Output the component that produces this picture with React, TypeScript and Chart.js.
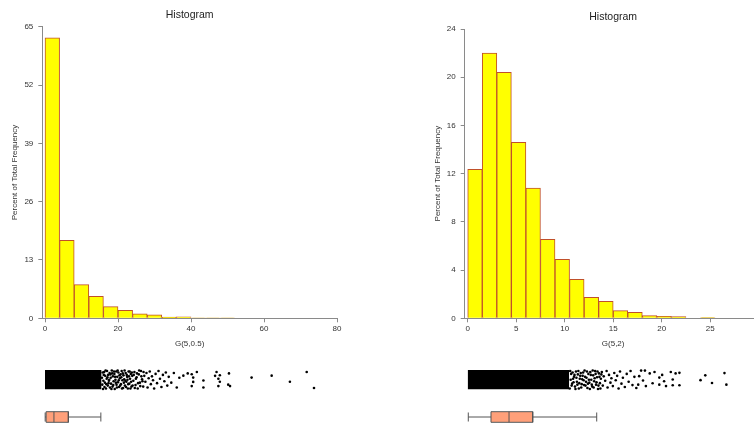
import React, { useEffect, useRef } from "react";
import { Chart, registerables } from "chart.js";
Chart.register(...registerables);

const FONT = "'Liberation Sans', Arial, Helvetica, sans-serif";

// ---------- Left panel: G(5,0.5) ----------
const leftBinEdges = [0, 4, 8, 12, 16, 20, 24, 28, 32, 36, 40, 44, 48];
const leftPercents = [62.5, 17.4, 7.5, 4.9, 2.6, 1.8, 1.0, 0.8, 0.25, 0.35, 0.1, 0.08, 0.06];
const leftXTicks = [0, 20, 40, 60, 80];
const leftYTicks = [0, 13, 26, 39, 52, 65];
const leftDenseRange = [0, 15.5];
const leftStripPoints = [
  [15.6, 0.2], [15.7, -0.5], [15.8, 0.75], [15.9, -0.95], [16.0, -0.1], [16.1, 0.5], [16.3, -0.75], [16.6, 0.95],
  [16.8, -0.45], [17.1, 0.25], [17.4, -0.35], [17.6, 0.0], [17.9, 0.55], [18.2, -0.95], [18.4, 0.65], [18.7, -0.55],
  [18.9, 0.85], [19.2, 0.3], [19.4, -0.3], [19.7, -0.8], [19.9, 0.95], [20.2, -0.05], [20.4, 0.45], [20.6, -0.6],
  [20.9, 0.25], [21.1, -0.9], [21.3, 0.65], [21.6, -0.3], [21.8, 0.95], [22.0, -0.1], [22.2, -0.75], [22.4, 0.5],
  [22.6, 0.0], [22.8, -0.45], [23.0, 0.35], [23.2, 0.85], [23.4, -0.9], [23.6, -0.2], [23.8, 0.75], [24.0, -0.6],
  [24.3, 0.5], [24.6, -0.85], [24.9, 0.1], [25.2, 0.65], [25.5, -0.35], [25.8, 0.95], [26.1, -0.65], [26.4, 0.35],
  [26.7, -0.15], [27.0, 0.8],
  [16.2, 0.8], [16.4, -0.3], [16.5, 0.4], [16.7, -0.9], [16.9, 0.1], [17.0, 0.9], [17.2, -0.6], [17.3, 0.5],
  [17.5, -0.1], [17.7, 0.7], [17.8, -0.8], [18.0, 0.2], [18.1, -0.4], [18.3, 0.95], [18.5, -0.7], [18.6, 0.35],
  [18.8, -0.15], [19.0, 0.6], [19.1, -0.95], [19.3, 0.0], [19.5, 0.85], [19.6, -0.5], [19.8, 0.3], [20.0, -0.25],
  [20.1, 0.75], [20.3, -0.75], [20.5, 0.15], [20.7, 0.55], [20.8, -0.45], [21.0, 0.9], [21.2, -0.05], [21.4, -0.85],
  [21.5, 0.45], [21.7, 0.05], [21.9, -0.6], [22.1, 0.7], [22.3, -0.2], [22.5, 0.3], [22.7, -0.9], [22.9, 0.85],
  [23.1, -0.4], [23.3, 0.1], [23.5, 0.6], [23.7, -0.7], [23.9, 0.4],
  [24.2, -0.1], [24.5, 0.8], [24.8, -0.55], [25.1, 0.25], [25.4, -0.9], [25.7, 0.55], [26.0, -0.3], [26.3, 0.9],
  [26.6, 0.05], [26.9, -0.7], [27.2, 0.4], [27.5, -0.2], [27.8, 0.7], [28.1, -0.8], [28.4, 0.15], [28.7, 0.85],
  [29.0, -0.45], [29.3, 0.35], [29.6, -0.05], [29.9, -0.9], [30.3, 0.6], [30.7, -0.35], [31.1, 0.9], [31.5, 0.1],
  [31.9, -0.75], [32.3, 0.5], [32.7, -0.15], [33.1, 0.75], [33.5, -0.6], [33.9, 0.3], [34.6, -0.3], [35.3, 0.7],
  [36.1, -0.8], [36.8, 0.2],
  [37.9, 0.42], [39.1, 0.65], [40.2, 0.56], [40.6, 0.22], [41.6, 0.8], [40.6, -0.22], [40.2, -0.65], [43.4, -0.07],
  [43.4, -0.8], [47.0, 0.8], [46.6, 0.4], [47.9, 0.46], [47.5, 0.1], [47.9, -0.2], [47.5, -0.65], [50.2, -0.5],
  [50.7, -0.65], [50.4, 0.65],
  [56.6, 0.22], [62.1, 0.42], [67.1, -0.2], [71.7, 0.8], [73.7, -0.85],
];
const leftBox = { min: 0.05, q1: 0.3, median: 2.45, q3: 6.4, max: 15.3 };

// ---------- Right panel: G(5,2) ----------
const rightBinEdges = [0, 1.5, 3, 4.5, 6, 7.5, 9, 10.5, 12, 13.5, 15, 16.5, 18, 19.5, 21, 22.5, 24];
const rightPercents = [12.35, 22.0, 20.4, 14.6, 10.8, 6.55, 4.9, 3.23, 1.74, 1.4, 0.64, 0.5, 0.22, 0.17, 0.14, 0, 0.06];
const rightXTicks = [0, 5, 10, 15, 20, 25];
const rightYTicks = [0, 4, 8, 12, 16, 20, 24];
const rightDenseRange = [0, 10.6];
const rightStripPoints = [
  [10.65, -0.9], [10.7, 0.9], [10.75, 0.0], [10.85, -0.6], [10.95, 0.75], [11.05, -0.25], [11.15, 0.5], [11.25, -0.95],
  [11.35, 0.2], [11.45, -0.5], [11.55, 0.9], [11.65, -0.35], [11.75, 0.4], [11.85, -0.8], [11.95, 0.05], [12.05, 0.75],
  [12.15, -0.55], [12.25, 0.3], [12.35, -0.2], [12.45, 0.85], [12.55, -0.4], [12.65, 0.0], [12.75, -0.95], [12.85, 0.5],
  [12.95, -0.5], [13.05, 0.95], [13.15, -0.8], [13.25, 0.15], [13.35, 0.6], [13.45, -0.25], [13.55, 0.85], [13.65, -0.6],
  [13.75, 0.3], [13.85, -0.9], [13.95, 0.55],
  [10.8, 0.6], [10.9, -0.4], [11.0, 0.1], [11.1, 0.3], [11.2, -0.7], [11.3, 0.85], [11.4, -0.2], [11.5, 0.55],
  [11.6, -0.9], [11.7, 0.1], [11.8, 0.7], [11.9, -0.45], [12.0, 0.4], [12.1, -0.05], [12.2, 0.95], [12.3, -0.6],
  [12.4, 0.2], [12.5, -0.85], [12.6, 0.6], [12.7, -0.3], [12.8, 0.8], [12.9, 0.0], [13.0, -0.7], [13.1, 0.45],
  [13.2, -0.15], [13.3, 0.9], [13.4, -0.5], [13.5, 0.25], [13.6, -0.95], [13.7, 0.65], [13.8, -0.35], [13.9, 0.1],
  [14.0, 0.8], [14.1, -0.6], [14.2, 0.35], [14.35, -0.1], [14.5, 0.9], [14.6, -0.8], [14.75, 0.5], [14.9, -0.3],
  [15.0, 0.15], [15.15, -0.65], [15.3, 0.7], [15.45, -0.05], [15.6, 0.4], [15.75, -0.9], [15.9, 0.85], [16.05, -0.4],
  [16.2, 0.2], [16.4, -0.75], [16.6, 0.6], [16.8, -0.2], [17.0, 0.9], [17.2, -0.55], [17.4, 0.3], [17.6, -0.85],
  [17.8, -0.5], [17.9, 0.37], [18.1, 0.94], [18.3, -0.07], [18.5, 0.94], [18.6, -0.65], [19.0, 0.65], [19.3, -0.36],
  [19.5, 0.8], [20.0, -0.5], [20.0, 0.22], [20.3, 0.5], [20.5, -0.16], [20.7, -0.65], [21.2, 0.8], [21.4, 0.02],
  [21.4, -0.57], [21.7, 0.65], [22.1, 0.71], [22.1, -0.57],
  [24.3, -0.04], [24.8, 0.45], [25.5, -0.33], [26.8, 0.68], [27.0, -0.5],
];
const rightBox = { min: 0.06, q1: 2.4, median: 4.26, q3: 6.7, max: 13.3 };

const Y_TITLE = "Percent of Total Frequency";
const HIST_TITLE = "Histogram";

const AXIS_COLOR = "#8a8a8a";
const TEXT_COLOR = "#333333";

const titlePlugin = {
  id: "panelTitle",
  afterDraw(chart: any, _args: any, opts: any) {
    if (!opts || !opts.text) return;
    const { ctx, chartArea } = chart;
    ctx.save();
    ctx.font = `10.5px ${FONT}`;
    ctx.fillStyle = "#222";
    ctx.textAlign = "center";
    ctx.textBaseline = "middle";
    ctx.fillText(opts.text, (chartArea.left + chartArea.right) / 2, opts.y);
    ctx.restore();
  },
};

function histConfig(p: any) {
  const w = p.edges[1] - p.edges[0];
  const data = p.edges.map((e: number, i: number) => ({ x: e + w / 2, y: p.percents[i] }));
  const tickFont = { family: FONT, size: 8 };
  return {
    type: "bar",
    data: {
      datasets: [
        {
          data,
          backgroundColor: "#FFFF00",
          borderColor: "#C0502A",
          borderWidth: 1,
          barPercentage: 1,
          categoryPercentage: 1,
        },
      ],
    },
    options: {
      animation: false,
      responsive: false,
      events: [],
      layout: { padding: p.padding },
      plugins: {
        legend: { display: false },
        tooltip: { enabled: false },
        panelTitle: { text: HIST_TITLE, y: p.titleY },
      },
      scales: {
        x: {
          type: "linear",
          min: p.xMin,
          max: p.xMax,
          offset: false,
          afterBuildTicks: (s: any) => {
            s.ticks = p.xTicks.map((v: number) => ({ value: v }));
          },
          afterFit: (s: any) => {
            s.height = p.xAxisHeight;
          },
          grid: { offset: false, drawOnChartArea: false, drawTicks: true, tickLength: 4, color: AXIS_COLOR },
          border: { display: true, color: AXIS_COLOR },
          ticks: { font: tickFont, color: TEXT_COLOR, padding: 2, maxRotation: 0, autoSkip: false },
          title: { display: true, text: p.xTitle, font: tickFont, color: TEXT_COLOR, padding: p.xTitlePad },
        },
        y: {
          type: "linear",
          min: 0,
          max: p.yMax,
          afterBuildTicks: (s: any) => {
            s.ticks = p.yTicks.map((v: number) => ({ value: v }));
          },
          afterFit: (s: any) => {
            s.width = p.yAxisWidth;
          },
          grid: { offset: false, drawOnChartArea: false, drawTicks: true, tickLength: 4, color: AXIS_COLOR },
          border: { display: true, color: AXIS_COLOR },
          ticks: { font: tickFont, color: TEXT_COLOR, padding: 5, autoSkip: false },
          title: { display: true, text: Y_TITLE, font: tickFont, color: TEXT_COLOR, padding: p.yTitlePad },
        },
      },
    },
    plugins: [titlePlugin],
  };
}

function stripConfig(p: any) {
  return {
    type: "scatter",
    data: {
      datasets: [
        {
          type: "scatter",
          data: p.points.map((q: number[]) => ({ x: q[0], y: q[1] })),
          pointRadius: 1.3,
          pointBackgroundColor: "#000",
          pointBorderWidth: 0,
          clip: false,
        },
        {
          type: "line",
          data: [
            { x: p.dense[0], y: 1.15 },
            { x: p.dense[1], y: 1.15 },
          ],
          fill: { value: -1.15 },
          backgroundColor: "#000",
          borderWidth: 0,
          pointRadius: 0,
          clip: false,
        },
      ],
    },
    options: {
      animation: false,
      responsive: false,
      events: [],
      layout: { padding: p.padding },
      plugins: { legend: { display: false }, tooltip: { enabled: false } },
      scales: {
        x: { type: "linear", min: p.xMin, max: p.xMax, display: false },
        y: { type: "linear", min: -1, max: 1, display: false },
      },
    },
  };
}

function boxConfig(p: any) {
  const b = p.box;
  const line = (pts: number[][]) => ({
    type: "line",
    data: pts.map((q) => ({ x: q[0], y: q[1] })),
    borderColor: "#555",
    borderWidth: 1,
    pointRadius: 0,
    fill: false,
    clip: false,
    order: 0,
  });
  return {
    type: "scatter",
    data: {
      datasets: [
        line([[b.q1, -1], [b.q1, 1], [b.q3, 1], [b.q3, -1], [b.q1, -1]]),
        line([[b.median, -1], [b.median, 1]]),
        line([[b.min, 0], [b.q1, 0]]),
        line([[b.q3, 0], [b.max, 0]]),
        line([[b.min, -0.85], [b.min, 0.85]]),
        line([[b.max, -0.85], [b.max, 0.85]]),
        {
          type: "line",
          data: [
            { x: b.q1, y: 1 },
            { x: b.q3, y: 1 },
          ],
          fill: { value: -1 },
          backgroundColor: "#FFA07A",
          borderWidth: 0,
          pointRadius: 0,
          clip: false,
          order: 10,
        },
      ],
    },
    options: {
      animation: false,
      responsive: false,
      events: [],
      layout: { padding: p.padding },
      plugins: { legend: { display: false }, tooltip: { enabled: false } },
      scales: {
        x: { type: "linear", min: p.xMin, max: p.xMax, display: false },
        y: { type: "linear", min: -1, max: 1, display: false },
      },
    },
  };
}

function ChartBox({ left, top, width, height, config }: any) {
  const ref = useRef<HTMLCanvasElement | null>(null);
  useEffect(() => {
    if (!ref.current) return;
    const chart = new Chart(ref.current, config);
    return () => chart.destroy();
  }, []);
  return (
    <div style={{ position: "absolute", left, top, width, height }}>
      <canvas ref={ref} width={width} height={height} style={{ display: "block", width, height }} />
    </div>
  );
}

export default function App() {
  const L = { xMin: -0.74, xMax: 80 };
  const R = { xMin: -0.31, xMax: 30.3 };
  const leftPad = { left: 0, right: 40 };
  const rightPad = { left: 87.7, right: 0.4 };

  const leftHist = histConfig({
    edges: leftBinEdges, percents: leftPercents, xTicks: leftXTicks, yTicks: leftYTicks,
    xMin: L.xMin, xMax: L.xMax, yMax: 65, xTitle: "G(5,0.5)",
    padding: { left: 0, right: 40, top: 26.7, bottom: 0 },
    yAxisWidth: 42.3, xAxisHeight: 33.7, xTitlePad: 3.2, yTitlePad: 9.5, titleY: 15.5,
  });
  const rightHist = histConfig({
    edges: rightBinEdges, percents: rightPercents, xTicks: rightXTicks, yTicks: rightYTicks,
    xMin: R.xMin, xMax: R.xMax, yMax: 24, xTitle: "G(5,2)",
    padding: { left: 0, right: 0.4, top: 29, bottom: 0 },
    yAxisWidth: 87.7, xAxisHeight: 33.7, xTitlePad: 3.2, yTitlePad: 55.9, titleY: 17.2,
  });
  const leftStrip = stripConfig({
    points: leftStripPoints, dense: leftDenseRange, xMin: L.xMin, xMax: L.xMax,
    padding: { ...leftPad, left: 42.3, top: 3.5, bottom: 4.5 },
  });
  const rightStrip = stripConfig({
    points: rightStripPoints, dense: rightDenseRange, xMin: R.xMin, xMax: R.xMax,
    padding: { ...rightPad, top: 3.5, bottom: 4.5 },
  });
  const leftBoxCfg = boxConfig({
    box: leftBox, xMin: L.xMin, xMax: L.xMax,
    padding: { ...leftPad, left: 42.3, top: 6.7, bottom: 1.7 },
  });
  const rightBoxCfg = boxConfig({
    box: rightBox, xMin: R.xMin, xMax: R.xMax,
    padding: { ...rightPad, top: 6.7, bottom: 1.7 },
  });

  return (
    <div style={{ position: "fixed", left: 0, top: 0, width: 754, height: 424, overflow: "hidden", background: "#fff" }}>
      <ChartBox left={0} top={0} width={377} height={352} config={leftHist} />
      <ChartBox left={377} top={0} width={385} height={352} config={rightHist} />
      <ChartBox left={0} top={366} width={377} height={28} config={leftStrip} />
      <ChartBox left={377} top={366} width={385} height={28} config={rightStrip} />
      <ChartBox left={0} top={405} width={377} height={19} config={leftBoxCfg} />
      <ChartBox left={377} top={405} width={385} height={19} config={rightBoxCfg} />
    </div>
  );
}
